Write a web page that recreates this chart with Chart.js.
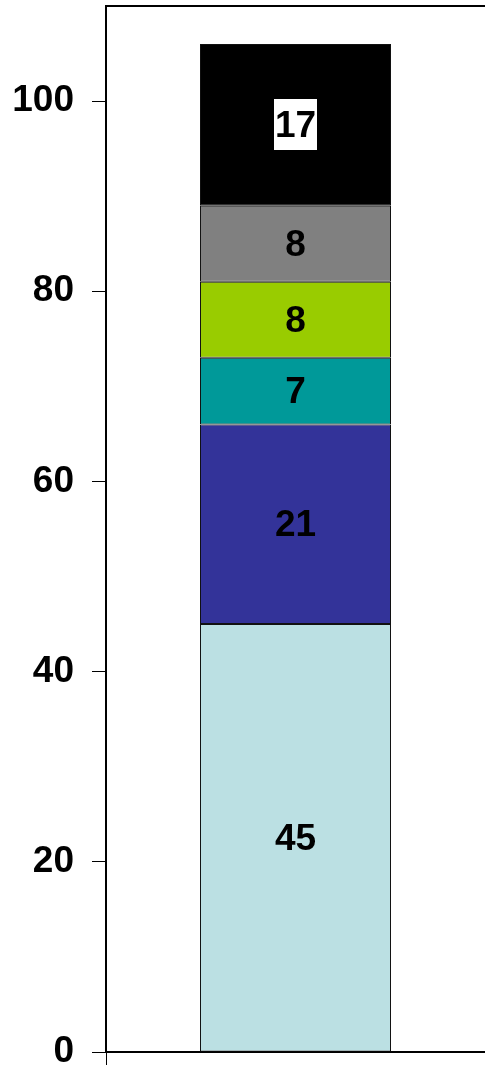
<!DOCTYPE html>
<html>
<head>
<meta charset="utf-8">
<script src="https://cdn.jsdelivr.net/npm/chart.js@4/dist/chart.umd.min.js"></script>
<style>
html,body{margin:0;padding:0;background:#fff;}
#c{display:block;}
</style>
</head>
<body>
<canvas id="c" width="485" height="1065"></canvas>
<script>
const categories = [''];
const seriesValues = [45, 21, 7, 8, 8, 17];
const seriesColors = ['#BBE0E3', '#333399', '#009999', '#99CC00', '#808080', '#000000'];
const boxedLabel = [false, false, false, false, false, true];
const yTicks = [0, 20, 40, 60, 80, 100];
const yMax = 110;

const FONT = "'Liberation Sans', Arial, sans-serif";

const datasets = seriesValues.map((v, i) => ({
  data: [v],
  backgroundColor: seriesColors[i],
  borderColor: '#111111',
  borderWidth: 1,
  borderSkipped: false,
  barPercentage: 0.504,
  categoryPercentage: 1.0
}));

const labelPlugin = {
  id: 'segLabels',
  afterDatasetsDraw(chart) {
    const ctx = chart.ctx;
    ctx.save();
    ctx.font = "bold 37px " + FONT;
    ctx.textAlign = 'center';
    ctx.textBaseline = 'middle';
    chart.data.datasets.forEach((ds, i) => {
      const meta = chart.getDatasetMeta(i);
      meta.data.forEach((el, j) => {
        const txt = String(ds.data[j]);
        const cx = el.x;
        const cy = (el.y + el.base) / 2;
        if (boxedLabel[i]) {
          const w = ctx.measureText(txt).width + 2;
          const h = 51;
          ctx.fillStyle = '#ffffff';
          ctx.fillRect(Math.round(cx - w / 2), Math.round(cy - h / 2), Math.round(w), h);
        }
        ctx.fillStyle = '#000000';
        ctx.fillText(txt, cx, cy + 2);
      });
    });
    ctx.restore();
  }
};

const framePlugin = {
  id: 'topFrame',
  afterDraw(chart) {
    const a = chart.chartArea;
    const ctx = chart.ctx;
    ctx.save();
    ctx.strokeStyle = '#000';
    ctx.lineWidth = 2;
    ctx.beginPath();
    ctx.moveTo(a.left - 1, a.top);
    ctx.lineTo(a.right, a.top);
    ctx.stroke();
    ctx.restore();
  }
};

new Chart(document.getElementById('c'), {
  type: 'bar',
  data: { labels: categories, datasets: datasets },
  options: {
    responsive: false,
    animation: false,
    layout: { padding: { top: 6, right: 0, left: 0, bottom: 0 } },
    plugins: { legend: { display: false }, tooltip: { enabled: false } },
    scales: {
      x: {
        stacked: true,
        offset: true,
        border: { display: true, color: '#000', width: 2 },
        grid: { display: true, drawOnChartArea: false, drawTicks: true, tickLength: 13, color: '#000', lineWidth: 1, offset: true },
        ticks: { display: false },
        afterFit(s) { s.height = 13; s.paddingLeft = 0; s.paddingRight = 0; }
      },
      y: {
        stacked: true,
        min: 0,
        max: yMax,
        border: { display: true, color: '#000', width: 2 },
        grid: { display: true, drawOnChartArea: false, drawTicks: true, tickLength: 14, color: '#000', lineWidth: 1 },
        ticks: {
          stepSize: 20,
          padding: 18,
          color: '#000',
          font: { family: FONT, size: 37, weight: 'bold' }
        },
        afterBuildTicks(s) { s.ticks = yTicks.map(v => ({ value: v })); },
        afterFit(s) { s.width = 106; s.paddingTop = 0; s.paddingBottom = 0; }
      }
    }
  },
  plugins: [labelPlugin, framePlugin]
});
</script>
</body>
</html>
